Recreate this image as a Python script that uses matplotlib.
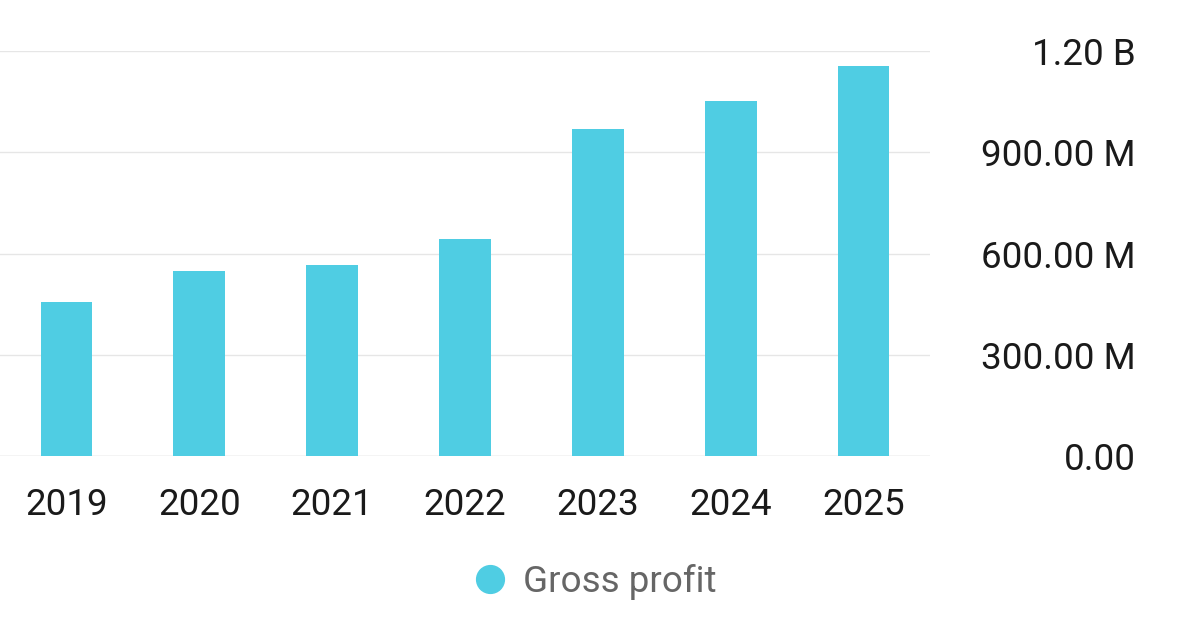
import matplotlib
matplotlib.use("Agg")
import matplotlib.pyplot as plt
from matplotlib.lines import Line2D

years = ["2019", "2020", "2021", "2022", "2023", "2024", "2025"]
gross_profit = [456e6, 548e6, 566e6, 643e6, 969e6, 1052e6, 1156e6]
ytick_vals = [0, 300e6, 600e6, 900e6, 1.2e9]
ytick_labels = ["0.00", "300.00 M", "600.00 M", "900.00 M", "1.20 B"]

plt.rcParams['font.family'] = ['Roboto', 'DejaVu Sans']
fig = plt.figure(figsize=(12, 6.4), dpi=100)
ax = fig.add_axes([0, 1 - 456/640, 930/1200, (456-51)/640])
color = "#4FCDE3"
ax.bar(range(len(years)), gross_profit, width=0.39, color=color, zorder=3)
ax.set_xlim(-0.5, 6.5)
ax.set_ylim(0, 1.2e9)
ax.set_yticks(ytick_vals)
ax.set_yticklabels(ytick_labels)
ax.yaxis.tick_right()
for t in ax.get_yticklabels():
    t.set_ha("right")
ax.tick_params(axis="y", length=0, pad=148, labelsize=26.5, labelcolor="#1a1a1a")
ax.tick_params(axis="x", length=0, pad=22, labelsize=26.5, labelcolor="#1a1a1a")
ax.set_xticks(range(len(years)))
ax.set_xticklabels(years)
ax.grid(axis="y", color="#e6e6e6", linewidth=1, zorder=0)
for s in ax.spines.values():
    s.set_visible(False)
ax.axhline(0, color="#e0e0e0", linewidth=1, zorder=2)

handle = Line2D([], [], marker="o", linestyle="none", markersize=20, color=color)
fig.legend([handle], ["Gross profit"], loc="center", bbox_to_anchor=(585/1200, 1 - 582/640),
           frameon=False, fontsize=26.5, labelcolor="#666666", handletextpad=-0.1)
fig.savefig("out.png", dpi=100)
